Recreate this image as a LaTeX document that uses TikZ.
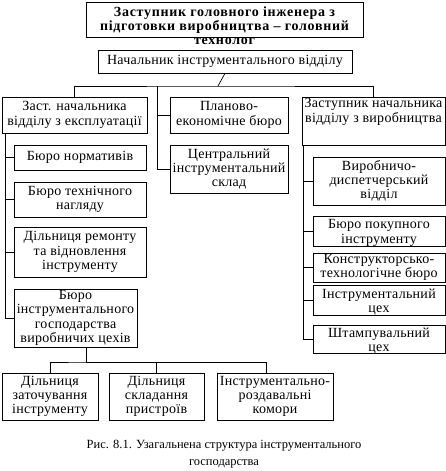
\documentclass[tikz,border=0pt]{standalone}
\usepackage{fontspec}
\setmainfont{Liberation Serif}
\begin{document}
\begin{tikzpicture}[x=1pt,y=-1pt,
  box/.style={draw, line width=0.7pt, inner sep=0pt},
  txt/.style={align=center, inner sep=0pt, font=\fontsize{14}{14.3}\selectfont\addfontfeatures{LetterSpace=2}},
  ln/.style={line width=0.7pt}]
\useasboundingbox (0,0) rectangle (446,471);
\newcommand\bx[7]{%
  \node[box, minimum width={#4-#2}, minimum height={#5-#3}] (#1) at ({(#2+#4)/2},{(#3+#5)/2}) {};
  \node[txt] (#1t) at ([yshift=#6pt]#1.center) {#7};}
% top
\node[box, minimum width=277, minimum height=35] (top) at (224.5,19.5) {};
\node[align=center, inner sep=0pt, font=\bfseries\fontsize{14}{14}\selectfont\addfontfeatures{LetterSpace=5}] (topt) at (224.5,26) {Заступник головного інженера з\\підготовки виробництва – головний\\технолог};
\bx{nach}{98}{50}{352}{73}{0}{Начальник інструментального відділу}
\bx{left}{2}{97}{147}{133}{0}{Заст. начальника\\відділу з експлуатації}
\bx{plan}{170}{97}{288}{133}{0}{Планово-\\економічне бюро}
\bx{right}{302}{97}{445}{145}{9}{Заступник начальника\\відділу з виробництва}
\bx{cs}{170}{145}{288}{193}{0}{Центральний\\інструментальний\\склад}
% left column
\bx{bn}{14}{145}{146}{170}{0}{Бюро нормативів}
\bx{btn}{14}{182}{146}{217}{0}{Бюро технічного\\нагляду}
\bx{dr}{14}{227}{146}{277}{0}{Дільниця ремонту\\та відновлення\\інструменту}
\bx{bih}{14}{289}{137}{347}{0}{Бюро\\інструментального\\господарства\\виробничих цехів}
% right column
\bx{vd}{313}{157}{445}{205}{0}{Виробничо-\\диспетчерський\\відділ}
\bx{bp}{313}{216}{445}{246}{-2}{Бюро покупного\\інструменту}
\bx{kt}{313}{253}{445}{282}{0}{Конструкторсько-\\технологічне бюро}
\bx{ic}{313}{285}{445}{315}{-2}{Інструментальний\\цех}
\bx{sc}{313}{325}{445}{353}{-2}{Штампувальний\\цех}
% bottom row
\bx{b1}{2}{373}{98}{420}{0}{Дільниця\\заточування\\інструменту}
\bx{b2}{109}{373}{204}{420}{0}{Дільниця\\складання\\пристроїв}
\bx{b3}{217}{373}{333}{420}{0}{Інструментально-\\роздавальні\\комори}
% caption
\node[align=center, inner sep=0pt, font=\fontsize{12.5}{17.5}\selectfont] (cap) at (224,454) {Рис. 8.1. Узагальнена структура інструментального\\господарства};
% connectors
\coordinate (hub) at (218,86);
\coordinate (mid) at (157,86);
\draw[ln] (nach.south) -- (hub);
\draw[ln] (left.north) |- (hub) -| (right.north);
\draw[ln] (mid) |- (plan.west);
\draw[ln] (mid) |- (cs.west);
\coordinate (lv) at (5,133);
\foreach \n in {bn,btn,dr,bih} \draw[ln] (lv) |- (\n.west);
\coordinate (rv) at (303,145);
\foreach \n in {vd,bp,kt,ic,sc} \draw[ln] (rv) |- (\n.west);
\coordinate (bh) at (86,362);
\draw[ln] (bih.south -| bh) -- (bh);
\draw[ln] (b1.north) |- (bh) -| (b2.north);
\draw[ln] (bh) -| ([xshift=-9pt]b3.north);
\end{tikzpicture}
\end{document}
